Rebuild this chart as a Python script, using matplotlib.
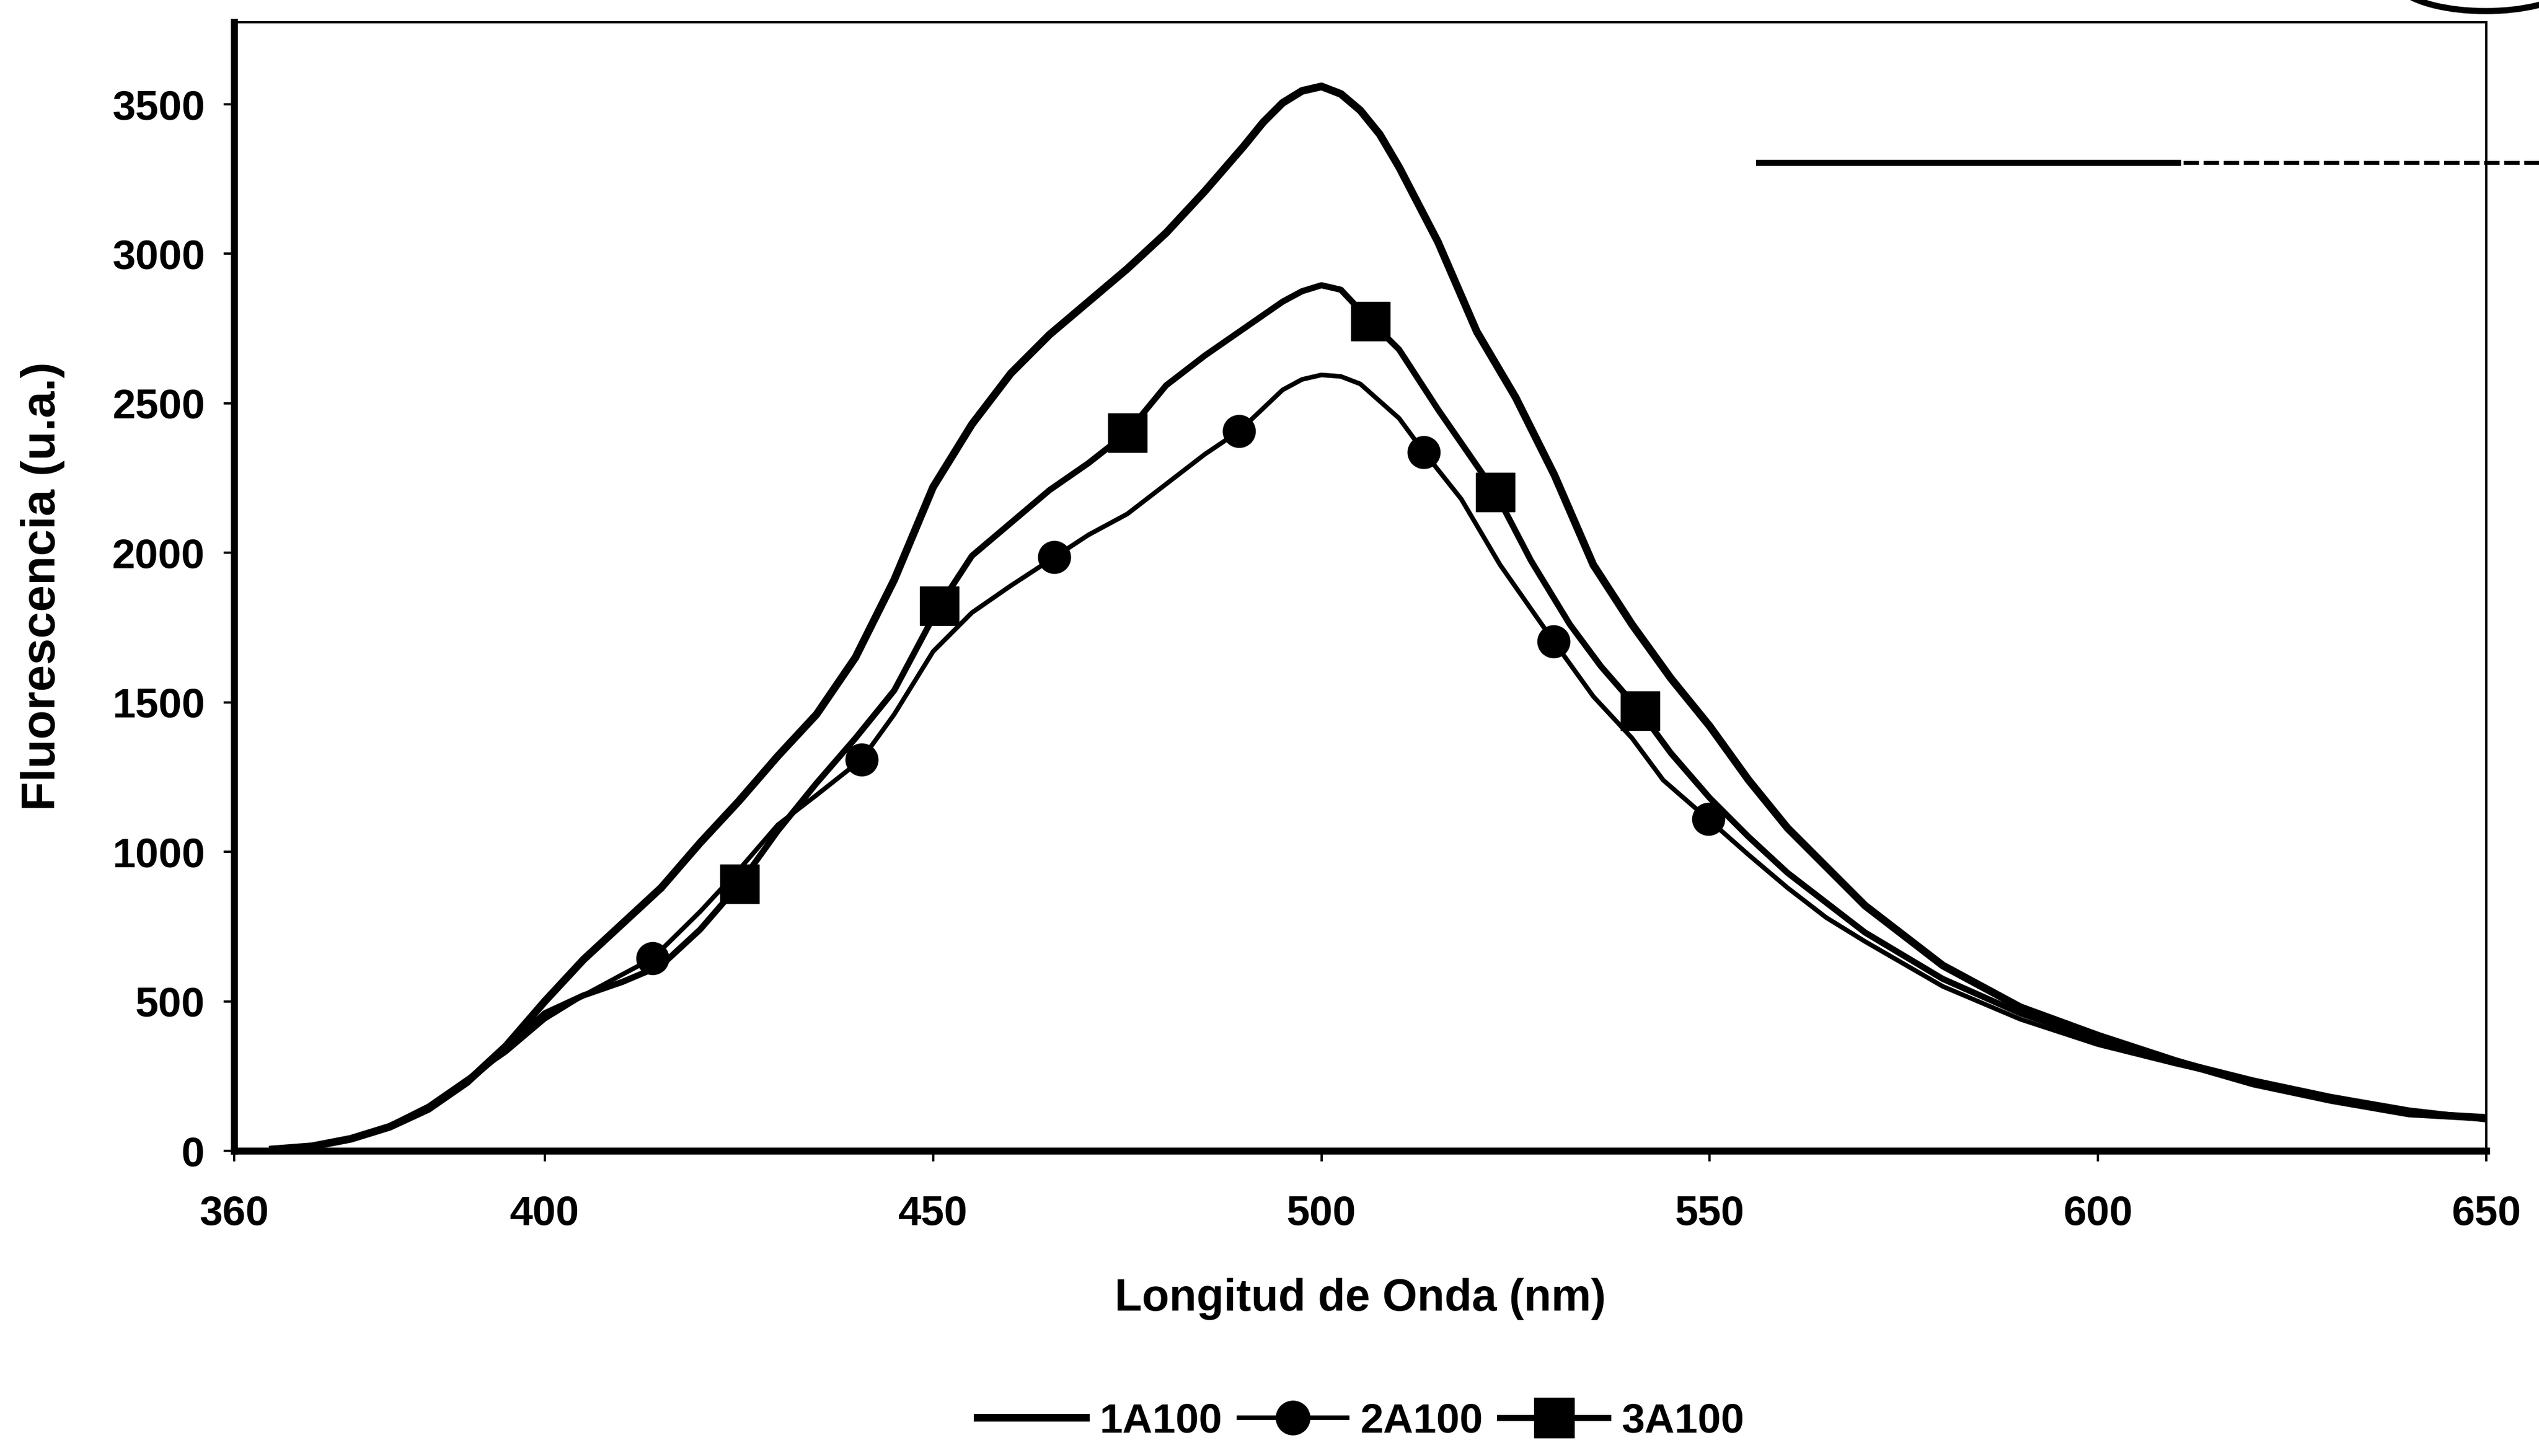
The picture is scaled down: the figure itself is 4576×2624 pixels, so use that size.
import matplotlib
matplotlib.use("Agg")
import matplotlib.pyplot as plt
from matplotlib.lines import Line2D
from matplotlib.patches import Arc

plt.rcParams['font.family'] = ['Liberation Sans', 'DejaVu Sans']
plt.rcParams['font.weight'] = 'bold'

# espectros de emision (u.a.) frente a longitud de onda (nm)
wl_1a = [365, 370, 375, 380, 385, 390, 395, 400, 405, 410, 415, 420, 425, 430, 435,
         440, 445, 450, 455, 460, 465, 470, 475, 480, 485, 490, 492.5, 495, 497.5, 500,
         502.5, 505, 507.5, 510, 515, 520, 525, 530, 535, 540, 545, 550, 555, 560, 565,
         570, 580, 590, 600, 610, 620, 630, 640, 650]
f_1a = [5, 15, 40, 80, 140, 230, 350, 500, 640, 760, 880, 1030, 1170, 1320, 1460,
        1650, 1910, 2220, 2430, 2600, 2730, 2840, 2950, 3070, 3210, 3360, 3440, 3505, 3545, 3560,
        3535, 3480, 3400, 3290, 3040, 2740, 2520, 2260, 1960, 1760, 1580, 1420, 1240, 1080, 950,
        820, 620, 480, 385, 300, 225, 170, 125, 110]

wl_2a = [365, 370, 375, 380, 385, 390, 395, 400, 405, 410, 413.9, 420, 425, 430, 435,
         440.8, 445, 450, 455, 460, 465.6, 470, 475, 480, 485, 489.4, 495, 497.5, 500, 502.5,
         505, 510, 513.2, 518, 523, 529.9, 535, 540, 544, 549.8, 555, 560, 565, 570, 580,
         590, 600, 610, 620, 630, 640, 650]
f_2a = [5, 15, 40, 85, 150, 240, 330, 440, 520, 590, 644, 800, 940, 1090, 1190,
        1309, 1460, 1670, 1800, 1890, 1985, 2060, 2130, 2230, 2330, 2407, 2545, 2580, 2595, 2590,
        2565, 2450, 2337, 2180, 1960, 1704, 1520, 1380, 1240, 1109, 990, 880, 780, 700, 550,
        440, 355, 290, 230, 175, 130, 105]
marks_2a = [413.9, 440.8, 465.6, 489.4, 513.2, 529.9, 549.8]

wl_3a = [365, 370, 375, 380, 385, 390, 395, 400, 405, 410, 415, 420, 425.1, 430, 435,
         440, 445, 450.8, 455, 460, 465, 470, 475, 480, 485, 490, 495, 497.5, 500, 502.5,
         506.3, 510, 515, 522.4, 527, 532, 536, 541, 545, 550, 555, 560, 565, 570, 580,
         590, 600, 610, 620, 630, 640, 650]
f_3a = [5, 15, 40, 80, 140, 230, 340, 460, 520, 565, 620, 740, 893, 1070, 1230,
        1380, 1540, 1823, 1990, 2100, 2210, 2300, 2402, 2560, 2660, 2750, 2840, 2875, 2895, 2880,
        2775, 2680, 2480, 2202, 1973, 1760, 1620, 1471, 1330, 1180, 1050, 930, 830, 730, 575,
        460, 370, 300, 235, 180, 135, 105]
marks_3a = [425.1, 450.8, 475, 506.3, 522.4, 541]

labels = ['1A100', '2A100', '3A100']
x_ticks = [360, 400, 450, 500, 550, 600, 650]
y_ticks = [0, 500, 1000, 1500, 2000, 2500, 3000, 3500]

fig = plt.figure(figsize=(45.76, 26.24), dpi=100)
ax = fig.add_axes([0.0922, 0.2096, 0.9793 - 0.0922, 0.9848 - 0.2096])

ax.plot(wl_1a, f_1a, color='black', lw=10, solid_joinstyle='round', label=labels[0])
ax.plot(wl_2a, f_2a, color='black', lw=6, solid_joinstyle='round', marker='o', ms=42,
        mec='black', mew=1, markevery=[wl_2a.index(m) for m in marks_2a], label=labels[1])
ax.plot(wl_3a, f_3a, color='black', lw=8, solid_joinstyle='round', marker='s', ms=50,
        mec='black', mew=1, markevery=[wl_3a.index(m) for m in marks_3a], label=labels[2])

ax.set_xlim(360, 650)
ax.set_ylim(0, 3775)
ax.set_xticks(x_ticks)
ax.set_yticks(y_ticks)
ax.tick_params(axis='both', direction='out', length=14, width=3, labelsize=54, colors='black')
ax.tick_params(axis='x', pad=43)
ax.tick_params(axis='y', pad=24)
for side in ['left', 'bottom']:
    ax.spines[side].set_linewidth(9)
for side in ['top', 'right']:
    ax.spines[side].set_linewidth(3)

ax.set_xlabel('Longitud de Onda (nm)', fontsize=58, fontweight='bold', labelpad=58)
ax.set_ylabel('Fluorescencia (u.a.)', fontsize=62, fontweight='bold')
ax.yaxis.set_label_coords(-0.075, 0.5)

fig.legend(loc='center', bbox_to_anchor=(2453 / 4576, 1 - 2562 / 2624), ncol=3, frameon=False,
           fontsize=54, handlelength=2.6, handletextpad=0.32, columnspacing=0.4,
           markerscale=1.05)

# trazo suelto y sello en la esquina superior derecha de la hoja
fig.add_artist(Line2D([3170 / 4576, 3925 / 4576], [1 - 293 / 2624] * 2, color='black', lw=8))
fig.add_artist(Line2D([3935 / 4576, 1.0], [1 - 293 / 2624] * 2, color='black', lw=5,
                      linestyle=(0, (4, 1.2))))
fig.add_artist(Arc((4480 / 4576, 1 + 40 / 2624), 330 / 4576, 120 / 2624, theta1=195, theta2=345,
                   transform=fig.transFigure, color='black', lw=8))

fig.savefig('out.png', dpi=100, facecolor='white')
